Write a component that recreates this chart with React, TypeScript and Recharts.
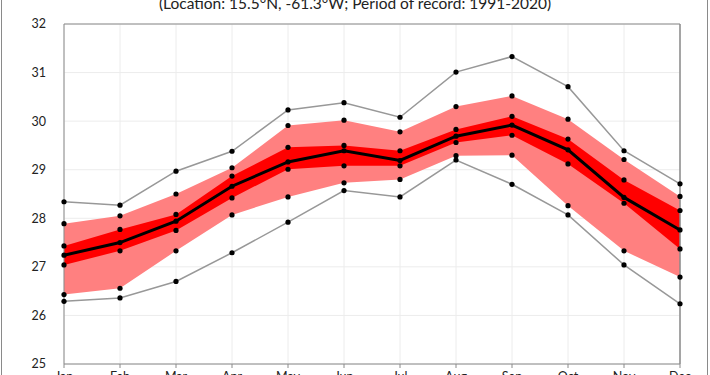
import {
    Area,
    CartesianGrid,
    ComposedChart,
    Line,
    ReferenceLine,
    XAxis,
    YAxis,
} from 'recharts';

const MONTHS = ['Jan', 'Feb', 'Mar', 'Apr', 'May', 'Jun', 'Jul', 'Aug', 'Sep', 'Oct', 'Nov', 'Dec'];

const MAX_T = [28.34, 28.27, 28.97, 29.38, 30.23, 30.38, 30.08, 31.01, 31.33, 30.71, 29.39, 28.71];
const P90 = [27.89, 28.05, 28.5, 29.04, 29.91, 30.02, 29.78, 30.3, 30.52, 30.04, 29.21, 28.45];
const P75 = [27.43, 27.77, 28.08, 28.87, 29.46, 29.5, 29.39, 29.83, 30.1, 29.63, 28.79, 28.16];
const MEDIAN = [27.24, 27.5, 27.94, 28.66, 29.16, 29.39, 29.19, 29.69, 29.92, 29.41, 28.43, 27.76];
const P25 = [27.04, 27.33, 27.75, 28.42, 29.01, 29.08, 29.08, 29.56, 29.71, 29.12, 28.31, 27.37];
const P10 = [26.43, 26.56, 27.33, 28.07, 28.44, 28.73, 28.8, 29.29, 29.3, 28.26, 27.33, 26.79];
const MIN_T = [26.29, 26.36, 26.7, 27.29, 27.92, 28.57, 28.44, 29.2, 28.7, 28.07, 27.04, 26.24];

const Y_TICKS = [25, 26, 27, 28, 29, 30, 31, 32];

const data = MONTHS.map((m, i) => ({
    month: m,
    max: MAX_T[i],
    p90: P90[i],
    p75: P75[i],
    median: MEDIAN[i],
    p25: P25[i],
    p10: P10[i],
    min: MIN_T[i],
    outer: [P10[i], P90[i]],
    inner: [P25[i], P75[i]],
}));

const FONT = 'Lato, "Open Sans", sans-serif';
const dot = { r: 2.6, fill: '#000', stroke: 'none' };
const markerKeys = ['p90', 'p75', 'p25', 'p10'];

export default function App() {
    return (
        <div
            style={{
                position: 'absolute',
                left: 0,
                top: 0,
                width: 710,
                height: 375,
                overflow: 'hidden',
                background: '#fff',
                fontFamily: FONT,
            }}
        >
            <div
                style={{
                    position: 'absolute',
                    left: 1,
                    top: 0,
                    width: 707,
                    height: 375,
                    borderLeft: '1px solid #8a8a8a',
                    borderRight: '1px solid #8a8a8a',
                    boxSizing: 'border-box',
                }}
            />
            <div
                style={{
                    position: 'absolute',
                    left: 0,
                    width: 710,
                    top: -7,
                    textAlign: 'center',
                    fontSize: 15.5,
                    lineHeight: '20px',
                    color: '#222',
                }}
            >
                (Location: 15.5°N, -61.3°W; Period of record: 1991-2020)
            </div>
            <ComposedChart
                width={710}
                height={375}
                data={data}
                margin={{ top: 24, right: 30, bottom: 0, left: 0 }}
                style={{ position: 'absolute', left: 0, top: 0 }}
            >
                <CartesianGrid stroke="#ececec" strokeWidth={1} />
                <XAxis
                    dataKey="month"
                    scale="point"
                    padding={{ left: 0, right: 0 }}
                    height={11}
                    interval={0}
                    stroke="#8a8a8a"
                    tickSize={4}
                    tickMargin={4}
                    tick={{ fontSize: 12.5, fill: '#222', fontFamily: FONT }}
                />
                <YAxis
                    type="number"
                    domain={[25, 32]}
                    ticks={Y_TICKS}
                    width={64}
                    stroke="#8a8a8a"
                    tickLine={false}
                    tickMargin={12}
                    tick={{ fontSize: 12.5, fill: '#222', fontFamily: FONT }}
                />
                <ReferenceLine y={32} stroke="#8a8a8a" strokeWidth={1} />
                <ReferenceLine x="Dec" stroke="#8a8a8a" strokeWidth={1.5} />
                <Area
                    dataKey="outer"
                    type="linear"
                    fill="#ff8080"
                    fillOpacity={1}
                    stroke="none"
                    isAnimationActive={false}
                />
                <Area
                    dataKey="inner"
                    type="linear"
                    fill="#ff0000"
                    fillOpacity={1}
                    stroke="none"
                    isAnimationActive={false}
                />
                <Line
                    dataKey="max"
                    type="linear"
                    stroke="#989898"
                    strokeWidth={1.5}
                    dot={dot}
                    activeDot={false}
                    isAnimationActive={false}
                />
                <Line
                    dataKey="min"
                    type="linear"
                    stroke="#989898"
                    strokeWidth={1.5}
                    dot={dot}
                    activeDot={false}
                    isAnimationActive={false}
                />
                <Line
                    dataKey="median"
                    type="linear"
                    stroke="#000"
                    strokeWidth={3}
                    dot={dot}
                    activeDot={false}
                    isAnimationActive={false}
                />
                {markerKeys.map((k) => (
                    <Line
                        key={k}
                        dataKey={k}
                        type="linear"
                        stroke="none"
                        dot={dot}
                        activeDot={false}
                        isAnimationActive={false}
                    />
                ))}
            </ComposedChart>
        </div>
    );
}
